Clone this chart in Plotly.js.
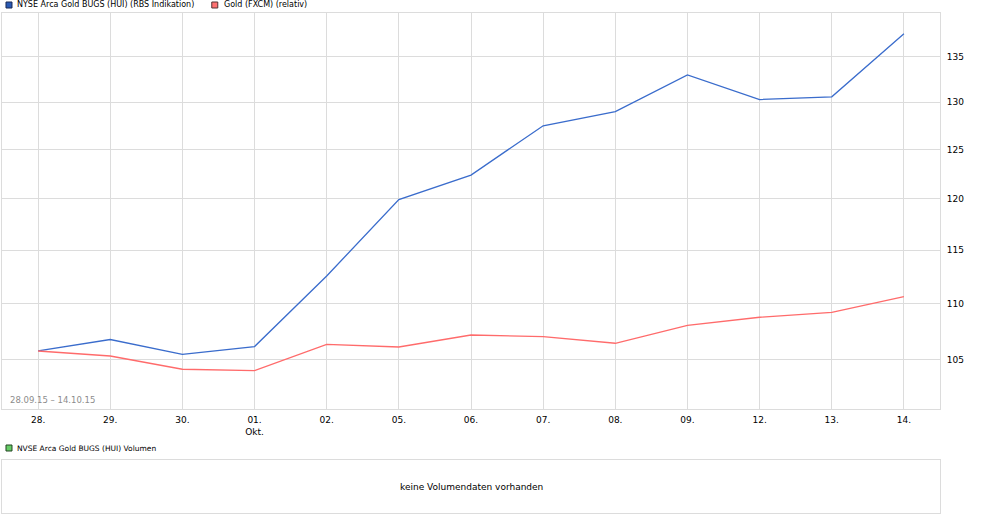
<!DOCTYPE html>
<html><head><meta charset="utf-8">
<script src="https://cdn.plot.ly/plotly-3.0.1.min.js"></script>
<style>html,body{margin:0;padding:0;background:#fff;}#chart{width:981px;height:523px;}</style>
</head><body><div id="chart"></div>
<script>
const categories = ["28.","29.","30.","01.<br>Okt.","02.","05.","06.","07.","08.","09.","12.","13.","14."];
const huiValues  = [105.77,106.78,105.48,106.16,112.56,119.92,122.39,127.5,129.0,133.0,130.3,130.6,137.6];
const goldValues = [105.77,105.33,104.18,104.06,106.36,106.12,107.18,107.04,106.45,108.05,108.77,109.22,110.65];
const yTicks = [105,110,115,120,125,130,135];
const seriesNames = ["NYSE Arca Gold BUGS (HUI) (RBS Indikation)","Gold (FXCM) (relativ)"];
const volumeName = "NVSE Arca Gold BUGS (HUI) Volumen";
const rangeLabel = "28.09.15 \u2013 14.10.15";
const noVolumeText = "keine Volumendaten vorhanden";

const fam = "Verdana, 'DejaVu Sans', sans-serif";
const font = {family:fam, size:9, color:"#000"};
const legFont = {family:fam, size:8, color:"#000"};
const grid = "#dcdcdc";

const traces = [
  {x:categories, y:huiValues, type:"scatter", mode:"lines", name:seriesNames[0],
   line:{color:"#3a6ccc", width:1.3}, xaxis:"x", yaxis:"y", hoverinfo:"skip"},
  {x:categories, y:goldValues, type:"scatter", mode:"lines", name:seriesNames[1],
   line:{color:"#ff6b6b", width:1.3}, xaxis:"x", yaxis:"y", hoverinfo:"skip"},
  {x:[0], y:[0], type:"scatter", mode:"none", xaxis:"x2", yaxis:"y2", showlegend:false, hoverinfo:"skip"}
];

const H = 500;
const layout = {
  width:981, height:523,
  margin:{l:2, r:41, t:13, b:10, pad:0},
  paper_bgcolor:"#fff", plot_bgcolor:"#fff",
  showlegend:false, font:font,
  xaxis:{type:"category", range:[-0.5,12.5], domain:[0,1], anchor:"y",
    showgrid:true, gridcolor:grid, gridwidth:1, showline:true, linecolor:grid, linewidth:1, mirror:true,
    ticks:"", tickfont:font, zeroline:false, fixedrange:true, ticklabelstandoff:2},
  yaxis:{type:"log", range:[Math.log10(100.8), Math.log10(140)], domain:[(513-409)/H, 1], side:"right",
    tickvals:yTicks, ticktext:yTicks.map(String), showgrid:true, gridcolor:grid, gridwidth:1,
    showline:true, linecolor:grid, linewidth:1, mirror:true, ticks:"", tickfont:font, zeroline:false,
    ticklabelstandoff:4},
  xaxis2:{domain:[0,1], anchor:"y2", range:[0,1], showgrid:false, showticklabels:false, ticks:"",
    showline:true, linecolor:grid, linewidth:1, mirror:true, zeroline:false},
  yaxis2:{domain:[0,(513-460)/H], anchor:"x2", range:[0,1], showgrid:false, showticklabels:false, ticks:"",
    showline:true, linecolor:grid, linewidth:1, mirror:true, zeroline:false},
  shapes:[
    {type:"rect", xref:"paper", yref:"paper", x0:4/939, x1:10/939, y0:(513-8)/H, y1:(513-2)/H,
     fillcolor:"#2a5ab4", line:{color:"#1a2a55", width:1}},
    {type:"rect", xref:"paper", yref:"paper", x0:210/939, x1:216/939, y0:(513-8)/H, y1:(513-2)/H,
     fillcolor:"#ff7070", line:{color:"#553333", width:1}},
    {type:"rect", xref:"paper", yref:"paper", x0:4/939, x1:10/939, y0:(513-451)/H, y1:(513-445)/H,
     fillcolor:"#66cc66", line:{color:"#224422", width:1}}
  ],
  annotations:[
    {text:seriesNames[0], xref:"paper", yref:"paper", x:13/939, y:(513-5)/H, xanchor:"left", yanchor:"middle",
     showarrow:false, font:legFont},
    {text:seriesNames[1], xref:"paper", yref:"paper", x:220/939, y:(513-5)/H, xanchor:"left", yanchor:"middle",
     showarrow:false, font:legFont},
    {text:volumeName, xref:"paper", yref:"paper", x:13/939, y:(513-448)/H, xanchor:"left", yanchor:"middle",
     showarrow:false, font:{family:fam, size:7.5, color:"#000"}},
    {text:rangeLabel, xref:"paper", yref:"paper", x:6/939, y:(513-400)/H, xanchor:"left", yanchor:"middle",
     showarrow:false, font:{family:fam, size:8.5, color:"#8c8c8c"}},
    {text:noVolumeText, xref:"x2", yref:"y2", x:0.5, y:0.5, xanchor:"center", yanchor:"middle",
     showarrow:false, font:font}
  ]
};
Plotly.newPlot("chart", traces, layout, {staticPlot:true, displayModeBar:false});
</script></body></html>
